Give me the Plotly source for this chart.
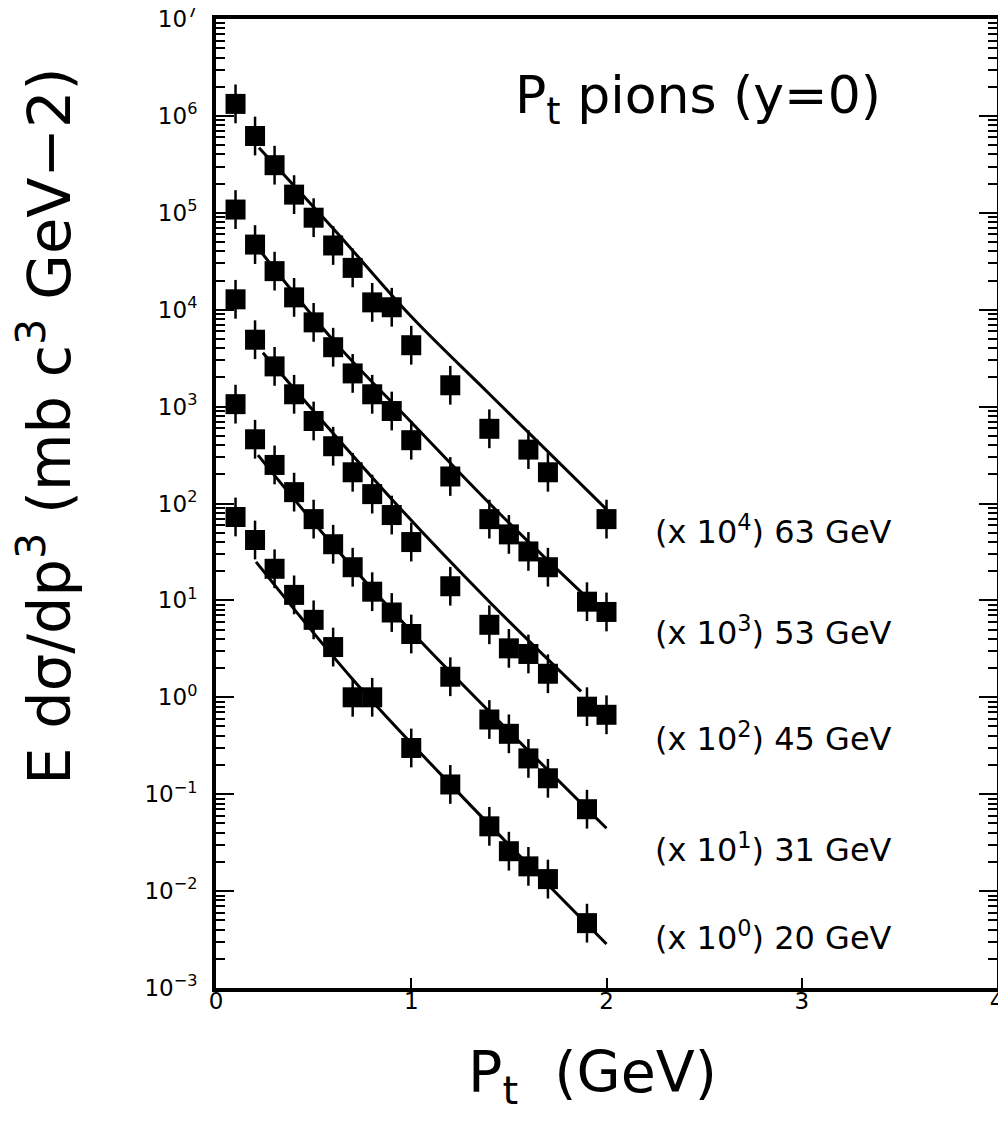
import plotly.graph_objects as go

# ---------------- data ----------------
pt63 = [0.1, 0.2, 0.3, 0.4, 0.5, 0.6, 0.7, 0.8, 0.9, 1.0, 1.2, 1.4, 1.6, 1.7, 2.0]
val63 = [1.33e6, 6.2e5, 3.1e5, 1.54e5, 8.9e4, 4.6e4, 2.7e4, 1.19e4, 1.06e4, 4.3e3,
         1.66e3, 5.9e2, 3.6e2, 2.1e2, 6.9e1]

pt53 = [0.1, 0.2, 0.3, 0.4, 0.5, 0.6, 0.7, 0.8, 0.9, 1.0, 1.2, 1.4, 1.5, 1.6, 1.7, 1.9, 2.0]
val53 = [1.08e5, 4.7e4, 2.5e4, 1.34e4, 7.4e3, 4.1e3, 2.2e3, 1.34e3, 9.0e2, 4.5e2,
         1.9e2, 69, 48, 32, 22, 9.7, 7.6]

pt45 = [0.1, 0.2, 0.3, 0.4, 0.5, 0.6, 0.7, 0.8, 0.9, 1.0, 1.2, 1.4, 1.5, 1.6, 1.7, 1.9, 2.0]
val45 = [1.28e4, 4.9e3, 2.6e3, 1.34e3, 7.1e2, 3.9e2, 2.1e2, 1.25e2, 76, 40,
         14, 5.6, 3.2, 2.8, 1.75, 0.80, 0.66]

pt31 = [0.1, 0.2, 0.3, 0.4, 0.5, 0.6, 0.7, 0.8, 0.9, 1.0, 1.2, 1.4, 1.5, 1.6, 1.7, 1.9]
val31 = [1.06e3, 4.6e2, 2.5e2, 1.31e2, 69, 38, 22, 12.3, 7.5, 4.5,
         1.63, 0.59, 0.42, 0.234, 0.146, 0.070]

pt20 = [0.1, 0.2, 0.3, 0.4, 0.5, 0.6, 0.7, 0.8, 1.0, 1.2, 1.4, 1.5, 1.6, 1.7, 1.9]
val20 = [72.6, 42, 21.2, 11.4, 6.3, 3.3, 1.0, 1.0, 0.30, 0.126,
         0.0466, 0.0258, 0.018, 0.0133, 0.00467]

# fitted curves
fit63_pt = [0.22, 0.6, 1.0, 1.4, 2.0]
fit63_val = [4.7e5, 6.9e4, 8.5e3, 1.35e3, 87]
fit53_pt = [0.22, 0.61, 1.0, 1.46, 2.0]
fit53_val = [4.2e4, 4.6e3, 6.9e2, 76, 6.9]
fit45_pt = [0.24, 0.95, 1.4, 1.87]
fit45_val = [3.6e3, 86, 9.7, 1.15]
fit31_pt = [0.215, 0.6, 1.05, 2.0]
fit31_val = [316, 37, 3.75, 0.0445]
fit20_pt = [0.205, 0.72, 1.25, 2.0]
fit20_val = [25, 1.38, 0.0995, 0.00284]

series_labels = ["(x 10<sup>4</sup>) 63 GeV", "(x 10<sup>3</sup>) 53 GeV",
                 "(x 10<sup>2</sup>) 45 GeV", "(x 10<sup>1</sup>) 31 GeV",
                 "(x 10<sup>0</sup>) 20 GeV"]
label_logy = [1.73, 0.68, -0.41, -1.56, -2.46]

ytick_vals = [1e-3, 1e-2, 1e-1, 1e0, 1e1, 1e2, 1e3, 1e4, 1e5, 1e6, 1e7]
ytick_text = ["10<sup>−3</sup>", "10<sup>−2</sup>", "10<sup>−1</sup>", "10<sup>0</sup>",
              "10<sup>1</sup>", "10<sup>2</sup>", "10<sup>3</sup>", "10<sup>4</sup>",
              "10<sup>5</sup>", "10<sup>6</sup>", "10<sup>7</sup>"]
xtick_vals = [0, 1, 2, 3, 4]

# ---------------- figure ----------------
FONT = "DejaVu Sans, Liberation Sans, sans-serif"
ERR_DEC = 0.2  # half length of error bar in decades (style)

fig = go.Figure()

fits = [(fit63_pt, fit63_val), (fit53_pt, fit53_val), (fit45_pt, fit45_val),
        (fit31_pt, fit31_val), (fit20_pt, fit20_val)]
for fx, fy in fits:
    fig.add_trace(go.Scatter(x=fx, y=fy, mode="lines", line_shape="spline",
                             line=dict(color="black", width=3), showlegend=False,
                             hoverinfo="skip"))

data = [(pt63, val63), (pt53, val53), (pt45, val45), (pt31, val31), (pt20, val20)]
for px, py in data:
    up = [v * (10 ** ERR_DEC - 1) for v in py]
    dn = [v * (1 - 10 ** (-ERR_DEC)) for v in py]
    fig.add_trace(go.Scatter(
        x=px, y=py, mode="markers",
        marker=dict(symbol="square", size=20, color="black", line=dict(width=0)),
        error_y=dict(type="data", symmetric=False, array=up, arrayminus=dn,
                     thickness=2.5, width=0, color="black"),
        showlegend=False))

for txt, ly in zip(series_labels, label_logy):
    fig.add_annotation(x=2.24, y=ly, xref="x", yref="y", text=txt, showarrow=False,
                       xanchor="left", yanchor="middle",
                       font=dict(family=FONT, size=32, color="black"))

fig.add_annotation(x=2.47, y=6.17, xref="x", yref="y", text="P<sub>t</sub> pions (y=0)",
                   showarrow=False, xanchor="center", yanchor="middle",
                   font=dict(family=FONT, size=52, color="black"))

fig.add_annotation(x=-0.218, y=0.58, xref="paper", yref="paper",
                   text="E dσ/dp<sup>3</sup> (mb c<sup>3</sup> GeV−2)",
                   textangle=-90, showarrow=False, xanchor="center", yanchor="middle",
                   font=dict(family=FONT, size=59, color="black"))

fig.add_annotation(x=0.482, y=-0.091, xref="paper", yref="paper",
                   text="P<sub>t</sub>  (GeV)", showarrow=False,
                   xanchor="center", yanchor="middle",
                   font=dict(family=FONT, size=57, color="black"))

fig.update_xaxes(range=[0, 4], tickvals=xtick_vals, ticks="inside", ticklen=10,
                 tickwidth=2, tickcolor="black", showline=True, linewidth=4,
                 linecolor="black", mirror=True, showgrid=False, zeroline=False,
                 ticklabeloverflow="allow", automargin=False, ticklabelstandoff=-11,
                 tickfont=dict(family=FONT, size=23, color="black"))
fig.update_yaxes(type="log", range=[-3, 7], tickvals=ytick_vals, ticktext=ytick_text,
                 ticks="inside", ticklen=18, tickwidth=2, tickcolor="black",
                 showline=True, linewidth=4, linecolor="black", mirror="ticks",
                 showgrid=False, zeroline=False, ticklabelstandoff=10,
                 ticklabeloverflow="allow", automargin=False,
                 minor=dict(ticks="inside", ticklen=9, tickwidth=1.5, tickcolor="black",
                            dtick="D1", showgrid=False),
                 tickfont=dict(family=FONT, size=23, color="black"))

fig.update_layout(width=998, height=1108,
                  margin=dict(l=208, r=9, t=11, b=128, autoexpand=False),
                  plot_bgcolor="white", paper_bgcolor="white",
                  font=dict(family=FONT, color="black"))

fig.write_html("out.html")
